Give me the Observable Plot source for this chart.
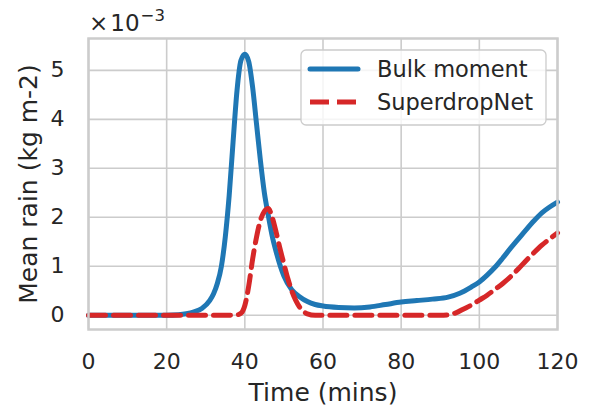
<!DOCTYPE html>
<html>
<head>
<meta charset="utf-8">
<script src="https://cdn.jsdelivr.net/npm/d3@7"></script>
<script src="https://cdn.jsdelivr.net/npm/@observablehq/plot@0.6"></script>
<style>
  html, body { margin: 0; padding: 0; background: #fff; }
  #chart { position: relative; width: 590px; height: 406px; font-family: "DejaVu Sans", sans-serif; }
</style>
</head>
<body>
<div id="chart"></div>
<script>
// Values in units of 1e-3 kg m-2
const seriesNames = ["Bulk moment", "SuperdropNet"];
const seriesColors = ["#1f77b4", "#d62728"];

const timeBulk = [0,10,20,23,25,27,29,31,32,33,34,35,36,37,38,39,40,41,42,43,44,45,46,47,48,50,52,54,56,58,60,64,68,72,76,80,84,88,92,95,98,100,102,104,106,108,110,112,114,116,118,120];
const rainBulk = [0,0,0,0.01,0.03,0.07,0.14,0.3,0.44,0.66,1.0,1.6,2.45,3.55,4.59,5.2,5.33,5.18,4.65,3.9,3.15,2.5,2.04,1.62,1.3,0.8,0.52,0.38,0.28,0.22,0.19,0.16,0.15,0.17,0.22,0.27,0.3,0.33,0.37,0.45,0.58,0.68,0.82,0.98,1.17,1.37,1.56,1.75,1.93,2.09,2.21,2.31];

const timeSDN = [0,36,38,39,40,41,42,43,44,45,46,47,48,49,50,51,52,53,54,55,56,58,90,92,94,96,98,100,102,104,106,108,110,112,114,116,118,120];
const rainSDN = [0,0,0.01,0.04,0.2,0.6,1.15,1.6,1.94,2.12,2.18,2.0,1.7,1.36,1.05,0.75,0.5,0.31,0.17,0.08,0.03,0,0,0.01,0.05,0.13,0.21,0.31,0.41,0.53,0.65,0.79,0.95,1.12,1.28,1.43,1.56,1.68];

const xTicks = [0,20,40,60,80,100,120];
const yTicks = [0,1,2,3,4,5];
const xLabel = "Time (mins)";
const yLabel = "Mean rain (kg m-2)";
const offsetTimes = "×";
const offsetBase = "10";
const offsetExp = "−3";

const bulk = timeBulk.map((t, i) => ({t, v: rainBulk[i]}));
const sdn = timeSDN.map((t, i) => ({t, v: rainSDN[i]}));

const textColor = "#262626";
const gridColor = "#cccccc";

const plot = Plot.plot({
  width: 590,
  height: 406,
  marginLeft: 88,
  marginRight: 33,
  marginTop: 38,
  marginBottom: 77,
  style: {fontFamily: "DejaVu Sans, sans-serif", color: textColor, background: "white", overflow: "visible"},
  x: {domain: [0, 120]},
  y: {domain: [-0.29, 5.65]},
  marks: [
    Plot.gridX(xTicks, {stroke: gridColor, strokeOpacity: 1, strokeWidth: 1.6}),
    Plot.gridY(yTicks, {stroke: gridColor, strokeOpacity: 1, strokeWidth: 1.6}),
    Plot.line(bulk, {x: "t", y: "v", stroke: seriesColors[0], strokeWidth: 5, curve: "monotone-x"}),
    Plot.line(sdn, {x: "t", y: "v", stroke: seriesColors[1], strokeWidth: 5, strokeDasharray: "17,8", curve: "monotone-x"}),
    Plot.frame({stroke: gridColor, strokeWidth: 2.5}),
    Plot.axisX(xTicks, {tickSize: 0, tickPadding: 24, fontSize: 22, label: null, fill: textColor}),
    Plot.axisY(yTicks, {tickSize: 0, tickPadding: 24, fontSize: 22, label: null, fill: textColor}),
    Plot.text([xLabel], {frameAnchor: "bottom", dy: 71, lineAnchor: "bottom", textAnchor: "middle", fontSize: 25, fill: textColor, text: d => d}),
    Plot.text([yLabel], {frameAnchor: "left", dx: -52, rotate: -90, lineAnchor: "bottom", textAnchor: "middle", fontSize: 25, fill: textColor, text: d => d})
  ]
});

const svg = d3.select(plot);

// offset text ×10^-3
const off = svg.append("text")
  .attr("x", 89).attr("y", 31)
  .attr("text-anchor", "start")
  .attr("fill", textColor)
  .attr("font-size", 23);
off.append("tspan").text(offsetTimes);
off.append("tspan").attr("dx", 2).text(offsetBase);
off.append("tspan").attr("dx", 1).attr("dy", -10).attr("font-size", 16.5).text(offsetExp);

// legend
const lg = svg.append("g").attr("transform", "translate(301,50)");
lg.append("rect")
  .attr("width", 245).attr("height", 75).attr("rx", 5)
  .attr("fill", "white").attr("fill-opacity", 0.8)
  .attr("stroke", gridColor).attr("stroke-width", 1.3);
seriesNames.forEach((name, i) => {
  const row = lg.append("g").attr("transform", `translate(0,${19 + i * 33})`);
  row.append("line")
    .attr("x1", 9).attr("x2", 57).attr("y1", 0).attr("y2", 0)
    .attr("stroke", seriesColors[i]).attr("stroke-width", 5)
    .attr("stroke-linecap", i === 0 ? "round" : "butt")
    .attr("stroke-dasharray", i === 0 ? null : "19,8");
  row.append("text")
    .attr("x", 76).attr("y", 0).attr("dy", "0.36em")
    .attr("text-anchor", "start")
    .attr("fill", textColor).attr("font-size", 22.5)
    .text(name);
});

document.getElementById("chart").appendChild(plot);
</script>
</body>
</html>
